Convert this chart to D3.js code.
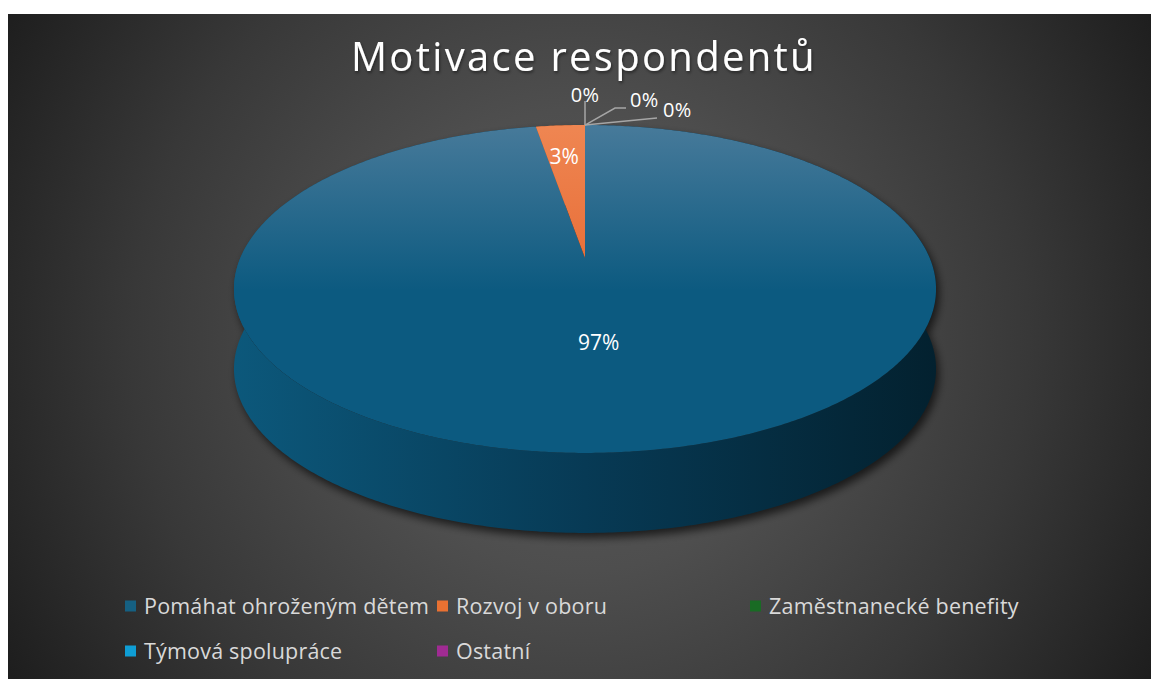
<!DOCTYPE html>
<html>
<head>
<meta charset="utf-8">
<script src="https://cdn.jsdelivr.net/npm/d3@7"></script>
<style>
  body { margin: 0; background: #ffffff; }
  svg { display: block; }
  text { font-family: "Open Sans", "DejaVu Sans", sans-serif; }
</style>
</head>
<body>
<div id="chart"></div>
<script>
// data
var categories = ["Pomáhat ohroženým dětem", "Rozvoj v oboru", "Zaměstnanecké benefity", "Týmová spolupráce", "Ostatní"];
var counts = [36, 1, 0, 0, 0];
var percentLabels = ["97%", "3%", "0%", "0%", "0%"];
var colors = ["#156082", "#e97132", "#196b24", "#0f9ed5", "#a02b93"];

var svgWidth = 1151, svgHeight = 679;
var svg = d3.select("#chart").append("svg")
  .attr("width", svgWidth)
  .attr("height", svgHeight);

var defs = svg.append("defs");

// background
var bg = defs.append("radialGradient").attr("id", "bg")
  .attr("gradientUnits", "userSpaceOnUse")
  .attr("cx", 580).attr("cy", 340).attr("r", 660);
[["0", "#5c5c5c"], ["0.35", "#4e4e4e"], ["0.68", "#383838"], ["1", "#1e1e1e"]].forEach(function (s) {
  bg.append("stop").attr("offset", s[0]).attr("stop-color", s[1]);
});
svg.append("rect")
  .attr("x", 8).attr("y", 14)
  .attr("width", svgWidth - 8).attr("height", svgHeight - 14)
  .attr("fill", "url(#bg)");

// pie geometry (perspective projected disc)
var cx = 585, cy = 258, A = 344.7, B = 158.1, k = 0.189, depth = 80;

function proj(a, f) {
  var u = f * Math.sin(a), v = f * Math.cos(a);
  var w = 1 + k * v;
  return [cx + A * u / w, cy - B * v / w];
}

function arcPoints(a0, a1, f) {
  var n = Math.max(2, Math.ceil((a1 - a0) / 0.01));
  var pts = [];
  for (var i = 0; i <= n; i++) pts.push(proj(a0 + (a1 - a0) * i / n, f));
  return pts;
}

var pie = d3.pie().sort(null).value(function (d) { return d; });
var arcs = pie(counts);

// gradients for faces
var topBlue = defs.append("linearGradient").attr("id", "topBlue")
  .attr("gradientUnits", "userSpaceOnUse").attr("x1", 0).attr("y1", 125).attr("x2", 0).attr("y2", 290);
topBlue.append("stop").attr("offset", 0).attr("stop-color", "#477a9a");
topBlue.append("stop").attr("offset", 1).attr("stop-color", "#0c5a80");

var topOrange = defs.append("linearGradient").attr("id", "topOrange")
  .attr("gradientUnits", "userSpaceOnUse").attr("x1", 0).attr("y1", 125).attr("x2", 0).attr("y2", 260);
topOrange.append("stop").attr("offset", 0).attr("stop-color", "#ef8652");
topOrange.append("stop").attr("offset", 1).attr("stop-color", "#e8703a");

var sideBlue = defs.append("linearGradient").attr("id", "sideBlue")
  .attr("gradientUnits", "userSpaceOnUse").attr("x1", 234).attr("y1", 0).attr("x2", 936).attr("y2", 0);
sideBlue.append("stop").attr("offset", 0).attr("stop-color", "#0c587b");
sideBlue.append("stop").attr("offset", 0.5).attr("stop-color", "#073a55");
sideBlue.append("stop").attr("offset", 1).attr("stop-color", "#03212f");

var topFill = ["url(#topBlue)", "url(#topOrange)"];
var sideFill = ["url(#sideBlue)", "#a8501f"];

var shadow = defs.append("filter").attr("id", "shadow")
  .attr("x", "-10%").attr("y", "-10%").attr("width", "120%").attr("height", "130%");
shadow.append("feGaussianBlur").attr("in", "SourceAlpha").attr("stdDeviation", 4);
shadow.append("feOffset").attr("dx", 3).attr("dy", 5).attr("result", "b");
shadow.append("feComponentTransfer").append("feFuncA").attr("type", "linear").attr("slope", 0.65);

var textShadow = defs.append("filter").attr("id", "textShadow")
  .attr("x", "-5%").attr("y", "-20%").attr("width", "110%").attr("height", "150%");
textShadow.append("feDropShadow").attr("dx", 1).attr("dy", 2).attr("stdDeviation", 1.5)
  .attr("flood-color", "#000").attr("flood-opacity", 0.45);

var line = d3.line();

function wallPath(d) {
  var top = arcPoints(d.startAngle, d.endAngle, 1);
  var bottom = top.map(function (p) { return [p[0], p[1] + depth]; }).reverse();
  return line(top.concat(bottom)) + "Z";
}
function topPath(d) {
  return line([proj(0, 0)].concat(arcPoints(d.startAngle, d.endAngle, 1))) + "Z";
}

var visible = arcs.filter(function (d) { return d.endAngle > d.startAngle; });

// shadow
var shadowG = svg.append("g").attr("filter", "url(#shadow)");
visible.forEach(function (d) {
  shadowG.append("path").attr("d", wallPath(d)).attr("fill", "#000");
  shadowG.append("path").attr("d", topPath(d)).attr("fill", "#000");
});

// walls
svg.append("g").selectAll("path")
  .data(visible)
  .enter().append("path")
  .attr("d", wallPath)
  .attr("fill", function (d) { return sideFill[d.index]; });

// tops
svg.append("g").selectAll("path")
  .data(visible)
  .enter().append("path")
  .attr("d", topPath)
  .attr("fill", function (d) { return topFill[d.index]; });

// labels inside
var labelRadius = [0.49, 0.73];
visible.forEach(function (d) {
  var mid = (d.startAngle + d.endAngle) / 2;
  var p = proj(mid, labelRadius[d.index]);
  svg.append("text")
    .attr("x", p[0] - 2).attr("y", p[1])
    .attr("text-anchor", "middle")
    .attr("dy", "0.35em")
    .attr("fill", "#ffffff")
    .style("font-size", "21px")
    .text(percentLabels[d.index]);
});

// zero labels with leader lines from the top point of the disc
var zeroOffsets = [[[0, -24]], [[30, -17], [41, -17]], [[72, -7]]];
var zeroText = [[0, -30, "middle"], [45, -25, "start"], [78, -15, "start"]];
var anchor = proj(2 * Math.PI, 1);
arcs.filter(function (d) { return d.endAngle === d.startAngle; }).forEach(function (d, i) {
  var pts = [anchor].concat(zeroOffsets[i].map(function (o) { return [anchor[0] + o[0], anchor[1] + o[1]]; }));
  svg.append("path")
    .attr("d", line(pts))
    .attr("fill", "none")
    .attr("stroke", "#a6a6a6")
    .attr("stroke-width", 1.5);
  svg.append("text")
    .attr("x", anchor[0] + zeroText[i][0])
    .attr("y", anchor[1] + zeroText[i][1])
    .attr("text-anchor", zeroText[i][2])
    .attr("dy", "0.35em")
    .attr("fill", "#ffffff")
    .style("font-size", "20px")
    .style("letter-spacing", "0.3px")
    .text(percentLabels[d.index]);
});

// title
svg.append("text")
  .attr("x", 584).attr("y", 71)
  .attr("text-anchor", "middle")
  .attr("fill", "#ffffff")
  .attr("filter", "url(#textShadow)")
  .style("font-size", "40px")
  .style("letter-spacing", "2.3px")
  .text("Motivace respondentů");

// legend
var legendCols = [125, 437, 750];
var legendRows = [606, 651];
var legend = svg.append("g").selectAll("g")
  .data(categories)
  .enter().append("g")
  .attr("transform", function (d, i) {
    return "translate(" + legendCols[i % 3] + "," + legendRows[Math.floor(i / 3)] + ")";
  });
legend.append("rect")
  .attr("x", 0).attr("y", -5.5)
  .attr("width", 11).attr("height", 11)
  .attr("fill", function (d, i) { return colors[i]; });
legend.append("text")
  .attr("x", 19).attr("y", 0)
  .attr("dy", "0.35em")
  .attr("fill", "#d9d9d9")
  .style("font-size", "21.5px")
  .style("letter-spacing", "0.2px")
  .text(function (d) { return d; });
</script>
</body>
</html>
